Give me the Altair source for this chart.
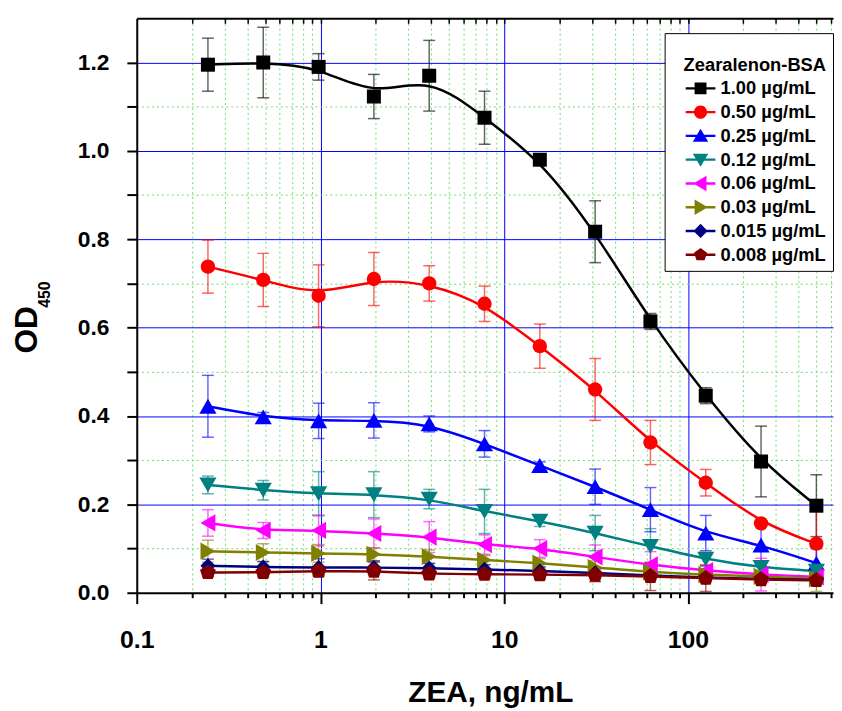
import altair as alt
import pandas as pd

# ---- data ----
conc = [0.244, 0.488, 0.977, 1.953, 3.906, 7.8125, 15.625, 31.25, 62.5, 125, 250, 500]

series_names = ["1.00 µg/mL", "0.50 µg/mL", "0.25 µg/mL", "0.12 µg/mL",
                "0.06 µg/mL", "0.03 µg/mL", "0.015 µg/mL", "0.008 µg/mL"]
series_colors = ["#000000", "#FF0000", "#0000FF", "#008080",
                 "#FF00FF", "#808000", "#000080", "#800000"]

od_100 = [1.195, 1.200, 1.190, 1.123, 1.170, 1.075, 0.980, 0.817, 0.614, 0.446, 0.297, 0.197]
sd_100 = [0.060, 0.080, 0.030, 0.050, 0.080, 0.060, 0.010, 0.070, 0.018, 0.018, 0.080, 0.070]
od_050 = [0.738, 0.708, 0.672, 0.710, 0.700, 0.654, 0.558, 0.460, 0.340, 0.249, 0.157, 0.111]
sd_050 = [0.060, 0.060, 0.070, 0.060, 0.040, 0.040, 0.050, 0.070, 0.050, 0.030, 0.005, 0.075]
od_025 = [0.422, 0.398, 0.389, 0.390, 0.382, 0.337, 0.288, 0.240, 0.188, 0.135, 0.108, 0.067]
sd_025 = [0.070, 0.010, 0.040, 0.040, 0.018, 0.030, 0.008, 0.040, 0.050, 0.040, 0.045, 0.033]
od_012 = [0.244, 0.232, 0.224, 0.222, 0.212, 0.184, 0.162, 0.135, 0.105, 0.076, 0.057, 0.049]
sd_012 = [0.020, 0.022, 0.050, 0.052, 0.022, 0.050, 0.012, 0.040, 0.040, 0.015, 0.015, 0.012]
od_006 = [0.158, 0.141, 0.141, 0.134, 0.126, 0.109, 0.100, 0.081, 0.063, 0.050, 0.041, 0.036]
sd_006 = [0.030, 0.018, 0.035, 0.033, 0.035, 0.022, 0.020, 0.027, 0.030, 0.010, 0.037, 0.010]
od_003 = [0.094, 0.091, 0.089, 0.087, 0.082, 0.074, 0.067, 0.057, 0.047, 0.041, 0.037, 0.031]
sd_003 = [0.025, 0.020, 0.020, 0.015, 0.015, 0.010, 0.010, 0.015, 0.010, 0.010, 0.008, 0.028]
od_0015 = [0.061, 0.058, 0.057, 0.057, 0.056, 0.053, 0.049, 0.045, 0.039, 0.034, 0.031, 0.029]
sd_0015 = [0.015, 0.012, 0.020, 0.015, 0.010, 0.010, 0.010, 0.010, 0.008, 0.008, 0.008, 0.008]
od_0008 = [0.046, 0.046, 0.049, 0.049, 0.043, 0.042, 0.041, 0.040, 0.037, 0.033, 0.030, 0.028]
sd_0008 = [0.010, 0.010, 0.010, 0.020, 0.010, 0.010, 0.010, 0.015, 0.032, 0.030, 0.008, 0.008]

all_od = [od_100, od_050, od_025, od_012, od_006, od_003, od_0015, od_0008]
all_sd = [sd_100, sd_050, sd_025, sd_012, sd_006, sd_003, sd_0015, sd_0008]

x_major = [0.1, 1, 10, 100]
x_minor = [k * 10.0 ** d for d in (-1, 0, 1) for k in range(2, 10)] + [200, 300, 400, 500, 600]
y_major = [0.0, 0.2, 0.4, 0.6, 0.8, 1.0, 1.2]
y_minor = [0.1, 0.3, 0.5, 0.7, 0.9, 1.1]

rows = []
for name, ods, sds in zip(series_names, all_od, all_sd):
    for xv, m, s in zip(conc, ods, sds):
        rows.append({"series": name, "x": xv, "od": m, "lo": m - s, "hi": m + s})
df = pd.DataFrame(rows)

# ---- marker shapes ----
point_shapes = ["square", "circle", "triangle-up", "triangle-down",
                "triangle-left", "triangle-right", "diamond",
                "M0,-1.15L1.1,-0.35L0.68,0.93H-0.68L-1.1,-0.35Z"]
point_sizes = [200, 210, 300, 300, 300, 300, 230, 210]

seg = "M-2.5,-0.2H2.5V0.2H-2.5Z"
legend_paths = [
    seg + "M-1,-1H1V1H-1Z",
    seg + "M-1.1,0A1.1,1.1,0,1,1,1.1,0A1.1,1.1,0,1,1,-1.1,0Z",
    seg + "M0,-1.2L1.3,1H-1.3Z",
    seg + "M0,1.2L-1.3,-1H1.3Z",
    seg + "M-1.2,0L1,-1.3V1.3Z",
    seg + "M1.2,0L-1,1.3V-1.3Z",
    seg + "M0,-1.2L1.2,0L0,1.2L-1.2,0Z",
    seg + "M0,-1.15L1.1,-0.35L0.68,0.93H-0.68L-1.1,-0.35Z",
]

FONT = "Liberation Sans"
xscale = alt.Scale(type="log", domain=[0.1, 616], nice=False)
yscale = alt.Scale(domain=[0, 1.3], nice=False, zero=False)
cscale = alt.Scale(domain=series_names, range=series_colors)
shscale = alt.Scale(domain=series_names, range=legend_paths)

GREEN = "#6fdc6f"
BLUE = "#0000FF"

ax_x_main = alt.Axis(orient="bottom", values=x_major, format="~g", tickSize=11, tickWidth=2,
                     tickColor="black", domainColor="black", domainWidth=2,
                     labelFontSize=25, labelFontWeight="bold", labelColor="black",
                     labelPadding=24, labelFlush=False, labelOverlap=False,
                     title="ZEA, ng/mL", titleFontSize=30, titleFontWeight="bold",
                     titleColor="black", titlePadding=26, titleX=357, titleAlign="center",
                     grid=False)
ax_x_minor = alt.Axis(orient="bottom", values=x_minor, tickSize=5, tickWidth=2, tickColor="black",
                      domain=False, labels=False, grid=True, gridColor=GREEN,
                      gridDash=[2, 3], gridWidth=1, title=None)
ax_x_grid = alt.Axis(orient="bottom", values=[1, 10, 100], ticks=False, labels=False,
                     domain=False, grid=True, gridColor=BLUE, gridWidth=1, title=None)
ax_x_top = alt.Axis(orient="top", offset=-5, values=[1, 10, 100] + x_minor, tickSize=5,
                    tickWidth=1.5, tickColor="black", domain=False, labels=False,
                    grid=False, title=None)
ax_x_topline = alt.Axis(orient="top", domain=True, domainColor="black", domainWidth=2,
                        ticks=False, labels=False, grid=False, title=None)

ax_y_main = alt.Axis(orient="left", values=y_major, format=".1f", tickSize=10, tickWidth=2,
                     tickColor="black", domainColor="black", domainWidth=2,
                     labelFontSize=23, labelFontWeight="bold", labelColor="black",
                     labelPadding=18, grid=False,
                     title="OD", titleFontSize=32, titleFontWeight="bold", titleColor="black",
                     titleAngle=270, titleX=-101, titleY=314, titleAlign="center",
                     titleBaseline="alphabetic")
ax_y_minor = alt.Axis(orient="left", values=y_minor, tickSize=10, tickWidth=2, tickColor="black",
                      domain=False, labels=False, grid=True, gridColor=GREEN,
                      gridDash=[2, 3], gridWidth=1, title=None)
ax_y_grid = alt.Axis(orient="left", values=y_major[1:], ticks=False, labels=False,
                     domain=False, grid=True, gridColor=BLUE, gridWidth=1, title=None)

leg = alt.Legend(orient="none", legendX=533, legendY=15,
                 title=[" ", "\u2800Zearalenon-BSA"], titleFontSize=18.5,
                 titleFontWeight="bold", titleColor="black", titleLineHeight=17,
                 titlePadding=5, titleFont=FONT,
                 labelFontSize=18.5, labelFontWeight="bold", labelColor="black", labelFont=FONT,
                 padding=6, rowPadding=5, symbolSize=144, symbolOffset=21, labelOffset=11,
                 symbolStrokeWidth=0, symbolOpacity=1, fillColor="white", strokeColor="black",
                 cornerRadius=0)

col = alt.Color("series:N", scale=cscale, legend=leg)

lines = alt.Chart(df).mark_line(interpolate="basis", strokeWidth=2.5).encode(
    x=alt.X("x:Q", scale=xscale, axis=ax_x_main),
    y=alt.Y("od:Q", scale=yscale, axis=ax_y_main),
    color=col, detail="series:N")

rules = alt.Chart(df).mark_rule(strokeWidth=1.5, opacity=0.6).encode(
    x=alt.X("x:Q", scale=xscale, axis=ax_x_minor),
    y=alt.Y("lo:Q", scale=yscale, axis=ax_y_minor),
    y2="hi:Q", color=col)

caps_lo = alt.Chart(df).mark_tick(orient="horizontal", size=12, thickness=1.5, opacity=0.6).encode(
    x=alt.X("x:Q", scale=xscale, axis=ax_x_grid),
    y=alt.Y("lo:Q", scale=yscale, axis=ax_y_grid),
    color=col)

caps_hi = alt.Chart(df).mark_tick(orient="horizontal", size=12, thickness=1.5, opacity=0.6).encode(
    x=alt.X("x:Q", scale=xscale, axis=ax_x_top),
    y=alt.Y("hi:Q", scale=yscale, axis=None),
    color=col)

point_layers = []
for i, (name, shp, sz) in enumerate(zip(series_names, point_shapes, point_sizes)):
    xa = ax_x_topline if i == 0 else None
    pl = alt.Chart(df).transform_filter(alt.datum.series == name).mark_point(
        filled=True, opacity=1, shape=shp, size=sz).encode(
        x=alt.X("x:Q", scale=xscale, axis=xa),
        y=alt.Y("od:Q", scale=yscale, axis=None),
        color=col)
    point_layers.append(pl)

legend_layer = alt.Chart(df).transform_filter("false").mark_point(
    filled=True, opacity=1, size=144).encode(
    color=col,
    shape=alt.Shape("series:N", scale=shscale, legend=leg))

sub = alt.Chart(pd.DataFrame({"t": ["450"]})).mark_text(
    angle=270, fontSize=16, fontWeight="bold", baseline="alphabetic", align="center",
    font=FONT, color="black").encode(text="t:N", x=alt.value(-88), y=alt.value(279))

chart = alt.layer(lines, rules, caps_lo, caps_hi, *point_layers, legend_layer, sub).resolve_axis(
    x="independent", y="independent"
).properties(
    width=703, height=580, autosize=alt.AutoSizeParams(type="none"),
    padding={"left": 130, "top": 7, "right": 1, "bottom": 115},
    background="white"
).configure_view(stroke=None).configure_axis(
    labelFont=FONT, titleFont=FONT
).configure_text(font=FONT)

chart.save("out.html", embed_options={"renderer": "svg", "actions": False})
